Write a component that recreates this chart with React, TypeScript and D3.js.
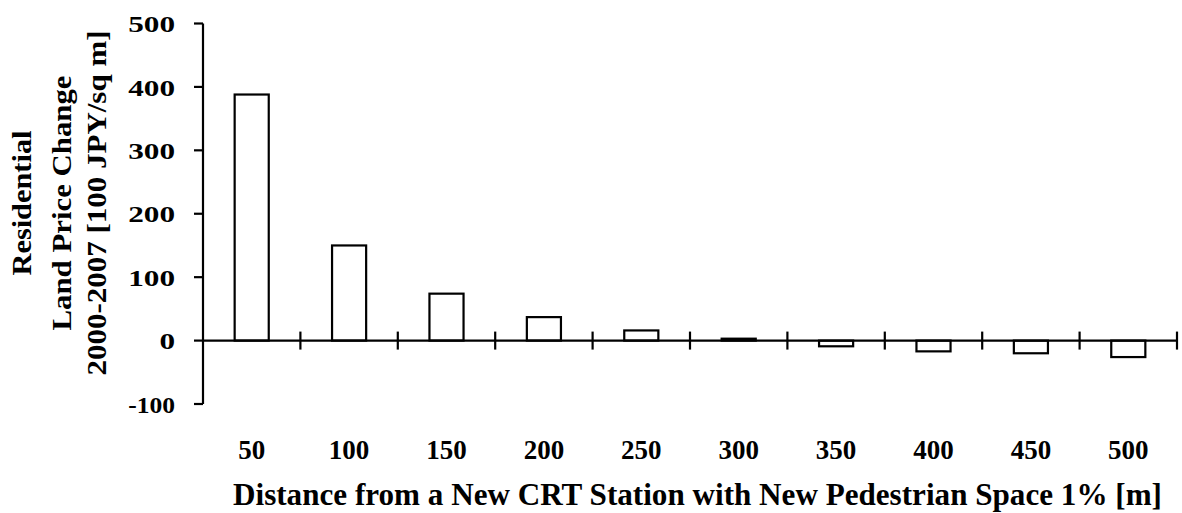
import * as d3 from 'd3'

const categories = ['50', '100', '150', '200', '250', '300', '350', '400', '450', '500']
const values = [388, 150, 74, 37, 16, 3, -9, -17, -20, -26]
const yTicks = [-100, 0, 100, 200, 300, 400, 500]
const yTitleLines = ['Residential', 'Land Price Change', '2000-2007 [100 JPY/sq m]']
const xTitle = 'Distance from a New CRT Station with New Pedestrian Space 1% [m]'

const W = 1182
const H = 513
const FONT = 'Liberation Serif'
const textStyle = { fontFamily: FONT, fontWeight: 'bold' as const }

export default function App() {
  const x = d3.scaleBand<string>()
    .domain(categories)
    .range([203, 1177])
    .paddingInner(0.65)
    .paddingOuter(0.325)

  const y = d3.scaleLinear().domain([-100, 500]).range([404, 23.5])
  const y0 = y(0)

  // tick marks between categories (crossing the zero line)
  const step = x.step()
  const xTickPos = categories.map((_, i) => 203 + step * (i + 1))

  // y title line geometry
  const titleX = [22, 62, 97]
  const titleLen = [145, 255, 345]

  return (
    <div style={{ position: 'fixed', left: 0, top: 0 }}>
      <svg width={W} height={H} style={{ display: 'block', background: '#fff' }}>
        {/* bars */}
        {values.map((v, i) => (
          <rect
            key={categories[i]}
            x={x(categories[i])}
            y={Math.min(y(v), y0)}
            width={x.bandwidth()}
            height={Math.abs(y(v) - y0)}
            fill="#fff"
            stroke="#000"
            strokeWidth={2.2}
          />
        ))}

        {/* y axis */}
        <line x1={203} x2={203} y1={y(500)} y2={y(-100)} stroke="#000" strokeWidth={2.2} />
        {yTicks.map(t => (
          <g key={t}>
            <line x1={194} x2={203} y1={y(t)} y2={y(t)} stroke="#000" strokeWidth={2.2} />
            <text
              x={175}
              y={y(t)}
              dy="0.36em"
              textAnchor="end"
              fontSize={24}
              style={textStyle}
              textLength={String(t).replace('-', '').length * 15.6}
              lengthAdjust="spacingAndGlyphs"
            >
              {t}
            </text>
          </g>
        ))}

        {/* x axis (zero line) */}
        <line x1={203} x2={1177} y1={y0} y2={y0} stroke="#000" strokeWidth={2.2} />
        {xTickPos.map((p, i) => (
          <line key={i} x1={p} x2={p} y1={y0 - 9} y2={y0 + 9} stroke="#000" strokeWidth={2.2} />
        ))}

        {/* category labels */}
        {categories.map(c => (
          <text
            key={c}
            x={(x(c) ?? 0) + x.bandwidth() / 2}
            y={459}
            textAnchor="middle"
            fontSize={27}
            style={textStyle}
          >
            {c}
          </text>
        ))}

        {/* x title */}
        <text
          x={233}
          y={505}
          fontSize={31}
          style={textStyle}
          textLength={929}
          lengthAdjust="spacingAndGlyphs"
        >
          {xTitle}
        </text>

        {/* y title */}
        {yTitleLines.map((line, i) => (
          <text
            key={line}
            transform={`translate(${titleX[i]},203) rotate(-90)`}
            dy="0.35em"
            textAnchor="middle"
            fontSize={27}
            style={textStyle}
            textLength={titleLen[i]}
            lengthAdjust="spacingAndGlyphs"
          >
            {line}
          </text>
        ))}
      </svg>
    </div>
  )
}
